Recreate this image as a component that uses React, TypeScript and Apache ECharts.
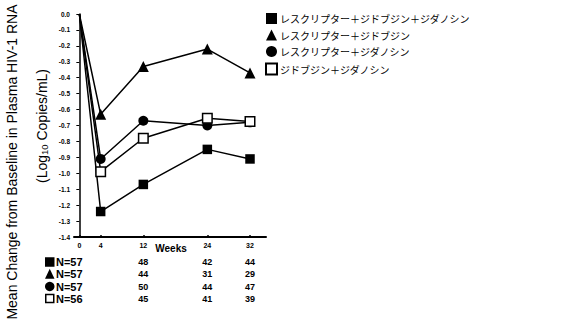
import React, { useEffect, useRef } from "react";
import * as echarts from "echarts";

// Study weeks on the x axis
const weeks = [0, 4, 12, 24, 32];

// Treatment arms (legend order)
const armNames = [
  "レスクリプター＋ジドブジン＋ジダノシン",
  "レスクリプター＋ジドブジン",
  "レスクリプター＋ジダノシン",
  "ジドブジン＋ジダノシン",
];

// Mean change from baseline in plasma HIV-1 RNA (log10 copies/mL)
const tripleValues = [0, -1.24, -1.07, -0.85, -0.91];
const dlvZdvValues = [0, -0.63, -0.33, -0.22, -0.37];
const dlvDdiValues = [0, -0.91, -0.67, -0.7, -0.68];
const zdvDdiValues = [0, -0.99, -0.78, -0.655, -0.675];

// Patients remaining per arm: baseline N, then weeks 12, 24, 32
const countWeeks = [12, 24, 32];
const tripleCounts = [57, 48, 42, 44];
const dlvZdvCounts = [57, 44, 31, 29];
const dlvDdiCounts = [57, 50, 44, 47];
const zdvDdiCounts = [56, 45, 41, 39];

const FONT = "'Liberation Sans', Arial, sans-serif";
const JP_FONT = "'Noto Sans CJK JP', sans-serif";

const symbols = ["rect", "triangle", "circle", "rect"];
const hollow = [false, false, false, true];
const valueSets = [tripleValues, dlvZdvValues, dlvDdiValues, zdvDdiValues];
const countSets = [tripleCounts, dlvZdvCounts, dlvDdiCounts, zdvDdiCounts];

export default function App() {
  const ref = useRef<HTMLDivElement>(null);

  useEffect(() => {
    if (!ref.current) return;
    const chart = echarts.init(ref.current, null, { renderer: "svg" });

    const series = armNames.map((name, i) => ({
      name,
      type: "line",
      // baseline point carries no marker
      data: weeks.map((w, k) =>
        k === 0 ? { value: [w, valueSets[i][k]], symbol: "none" } : { value: [w, valueSets[i][k]] }
      ),
      symbol: symbols[i],
      symbolSize: i === 1 ? 11 : i === 2 ? 10 : 9.5,
      showSymbol: true,
      lineStyle: { color: "#000", width: 1.5 },
      itemStyle: hollow[i]
        ? { color: "#fff", borderColor: "#000", borderWidth: 1.5 }
        : { color: "#000", borderColor: "#000", borderWidth: 0 },
      z: 2 + i,
    }));

    chart.setOption({
      animation: false,
      backgroundColor: "#fff",
      grid: { left: 74, right: 316, top: 14, bottom: 87 },
      legend: {
        orient: "vertical",
        left: 260,
        top: 8,
        itemWidth: 11,
        itemHeight: 11,
        itemGap: 5.5,
        data: armNames.map((name, i) => ({ name, icon: symbols[i] })),
        textStyle: { fontFamily: JP_FONT, fontSize: 10, color: "#000", padding: [0, 0, 0, -2] },
        selectedMode: false,
      },
      xAxis: {
        type: "value",
        min: -1,
        max: 35,
        splitLine: { show: false },
        axisLine: { onZero: false, lineStyle: { color: "#000", width: 2 } },
        axisTick: { show: true, inside: true, length: 2, customValues: weeks, lineStyle: { color: "#000", width: 1.5 } },
        axisLabel: {
          customValues: weeks,
          fontFamily: FONT,
          fontSize: 7,
          fontWeight: "bold",
          color: "#000",
          margin: 5,
        },
      },
      yAxis: {
        type: "value",
        min: -1.4,
        max: 0,
        interval: 0.1,
        splitLine: { show: false },
        axisLine: { show: true, lineStyle: { color: "#000", width: 1.5 } },
        axisTick: { show: true, length: 3, lineStyle: { color: "#000", width: 1 } },
        axisLabel: {
          fontFamily: FONT,
          fontSize: 6.5,
          fontWeight: "bold",
          color: "#000",
          margin: 4,
          formatter: (v: number) => (Math.abs(v) < 1e-9 ? "0.0" : v.toFixed(1)),
        },
      },
      series,
    });

    // Patient-count table beneath the x axis, columns aligned with week ticks
    const colX = countWeeks.map((w) => chart.convertToPixel({ xAxisIndex: 0 }, w) as number);
    const rowY = [262, 274, 286.5, 298.5];
    const elements: any[] = [];
    rowY.forEach((y, i) => {
      const s = 9.5;
      const sx = 45;
      if (i === 0) {
        elements.push({ type: "rect", shape: { x: sx, y: y - s / 2, width: s, height: s }, style: { fill: "#000" } });
      } else if (i === 1) {
        elements.push({
          type: "polygon",
          shape: { points: [[sx + s / 2, y - s / 2 - 0.5], [sx + s, y + s / 2], [sx, y + s / 2]] },
          style: { fill: "#000" },
        });
      } else if (i === 2) {
        elements.push({ type: "circle", shape: { cx: sx + s / 2, cy: y, r: s / 2 }, style: { fill: "#000" } });
      } else {
        elements.push({
          type: "rect",
          shape: { x: sx + 0.75, y: y - s / 2 + 0.75, width: s - 1.5, height: s - 1.5 },
          style: { fill: "#fff", stroke: "#000", lineWidth: 1.5 },
        });
      }
      elements.push({
        type: "text",
        x: 56,
        y,
        style: {
          text: "N=" + countSets[i][0],
          fontFamily: FONT,
          fontSize: 11,
          fontWeight: "bold",
          fill: "#000",
          textAlign: "left",
          textVerticalAlign: "middle",
        },
      });
      countWeeks.forEach((_, k) => {
        elements.push({
          type: "text",
          x: colX[k],
          y,
          style: {
            text: String(countSets[i][k + 1]),
            fontFamily: FONT,
            fontSize: 9,
            fontWeight: "bold",
            fill: "#000",
            textAlign: "center",
            textVerticalAlign: "middle",
          },
        });
      });
    });

    // Axis titles
    elements.push({
      type: "text",
      x: 171,
      y: 248,
      style: {
        text: "Weeks",
        fontFamily: FONT,
        fontSize: 10,
        fontWeight: "bold",
        fill: "#000",
        textAlign: "center",
        textVerticalAlign: "middle",
      },
    });
    elements.push({
      type: "text",
      x: 12,
      y: 162,
      rotation: Math.PI / 2,
      style: {
        text: "Mean Change from Baseline in Plasma HIV-1 RNA",
        fontFamily: FONT,
        fontSize: 14,
        fill: "#000",
        textAlign: "center",
        textVerticalAlign: "middle",
      },
    });
    elements.push({
      type: "text",
      x: 42,
      y: 126,
      rotation: Math.PI / 2,
      style: {
        text: "(Log{sub|10} Copies/mL)",
        fontFamily: FONT,
        fontSize: 14,
        fill: "#000",
        textAlign: "center",
        textVerticalAlign: "middle",
        rich: {
          sub: { fontFamily: FONT, fontSize: 9.5, fill: "#000", padding: [5, 0, 0, 0] },
        },
      },
    });

    chart.setOption({ graphic: { elements } });

    return () => chart.dispose();
  }, []);

  return (
    <div
      ref={ref}
      style={{ position: "fixed", left: 0, top: 0, width: 582, height: 324, background: "#fff" }}
    />
  );
}
